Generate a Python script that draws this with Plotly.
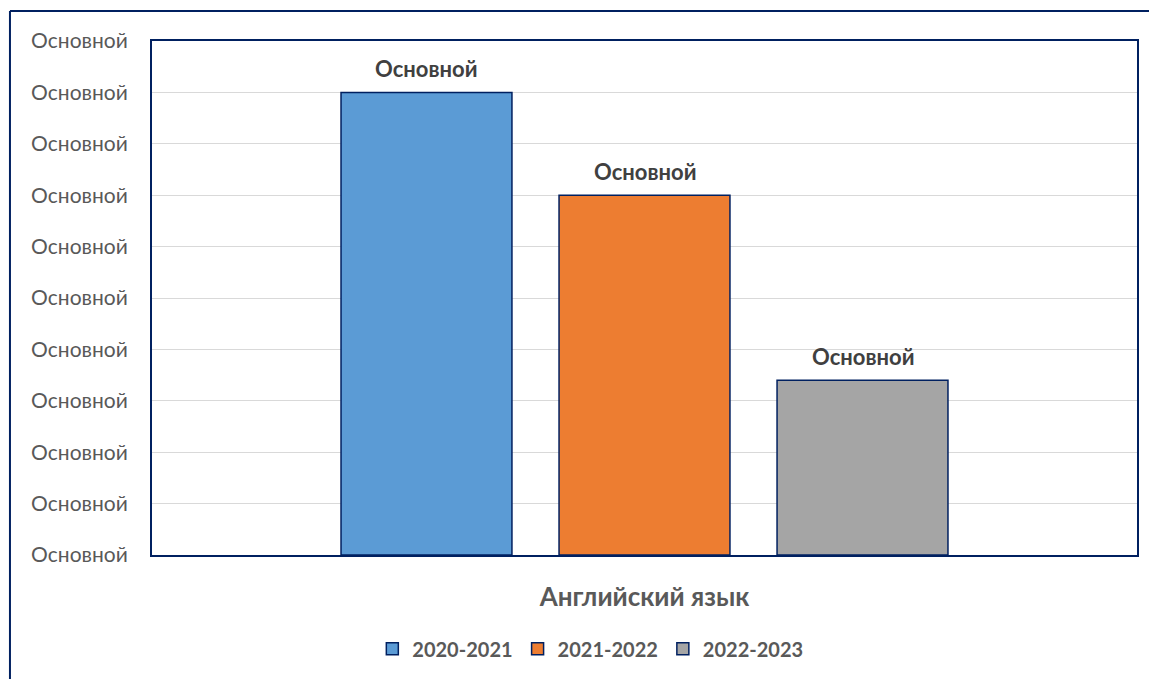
import plotly.graph_objects as go

categories = ["Английский язык"]
series_names = ["2020-2021", "2021-2022", "2022-2023"]
series_values = [9, 7, 3.4]
series_colors = ["#5B9BD5", "#ED7D31", "#A5A5A5"]
label_text = "Основной"
y_tickvals = list(range(0, 11))
y_ticktext = ["Основной"] * 11

NAVY = "#002060"
FONT = "Lato"

fig = go.Figure()
for i, (name, val, col) in enumerate(zip(series_names, series_values, series_colors)):
    fig.add_trace(go.Bar(
        x=[i], y=[val], name=name, width=0.784,
        marker=dict(color=col, line=dict(color=NAVY, width=1.5)),
        hoverinfo="skip",
    ))
    fig.add_annotation(x=i, y=val, text="<b>%s</b>" % label_text, showarrow=False,
                       yshift=24, font=dict(family=FONT, size=22, color="#404040"))

fig.update_layout(
    width=1149, height=671,
    margin=dict(l=144, r=20, t=33, b=123),
    paper_bgcolor="white", plot_bgcolor="white",
    font=dict(family=FONT, color="#595959"),
    barmode="overlay",
    showlegend=True,
    legend=dict(orientation="h", x=0.445, xanchor="center", y=-0.18, yanchor="middle",
                font=dict(family=FONT, size=20, color="#595959", weight="bold"),
                itemwidth=30, traceorder="normal"),
    xaxis=dict(range=[-1.259, 3.259], tickvals=[1], ticktext=["<b>%s</b>" % categories[0]],
               tickfont=dict(family=FONT, size=26, color="#595959"),
               showline=True, linecolor=NAVY, linewidth=2, mirror=True,
               showgrid=False, zeroline=False, ticks="", ticklabelstandoff=18, fixedrange=True),
    yaxis=dict(range=[0, 10], tickvals=y_tickvals, ticktext=y_ticktext,
               tickfont=dict(family=FONT, size=21, color="#595959"),
               showline=True, linecolor=NAVY, linewidth=2, mirror=True,
               showgrid=True, gridcolor="#D9D9D9", gridwidth=1, zeroline=False,
               ticks="", ticklabelstandoff=18, fixedrange=True),
)

# outer chart border (left and top edges visible)
fig.add_shape(type="line", xref="paper", yref="paper", x0=-0.1442, x1=1.1, y0=1.0583, y1=1.0583,
              line=dict(color=NAVY, width=2))
fig.add_shape(type="line", xref="paper", yref="paper", x0=-0.1442, x1=-0.1442, y0=1.0583, y1=-0.3,
              line=dict(color=NAVY, width=2))

fig.write_html("out.html", config={"displayModeBar": False})
